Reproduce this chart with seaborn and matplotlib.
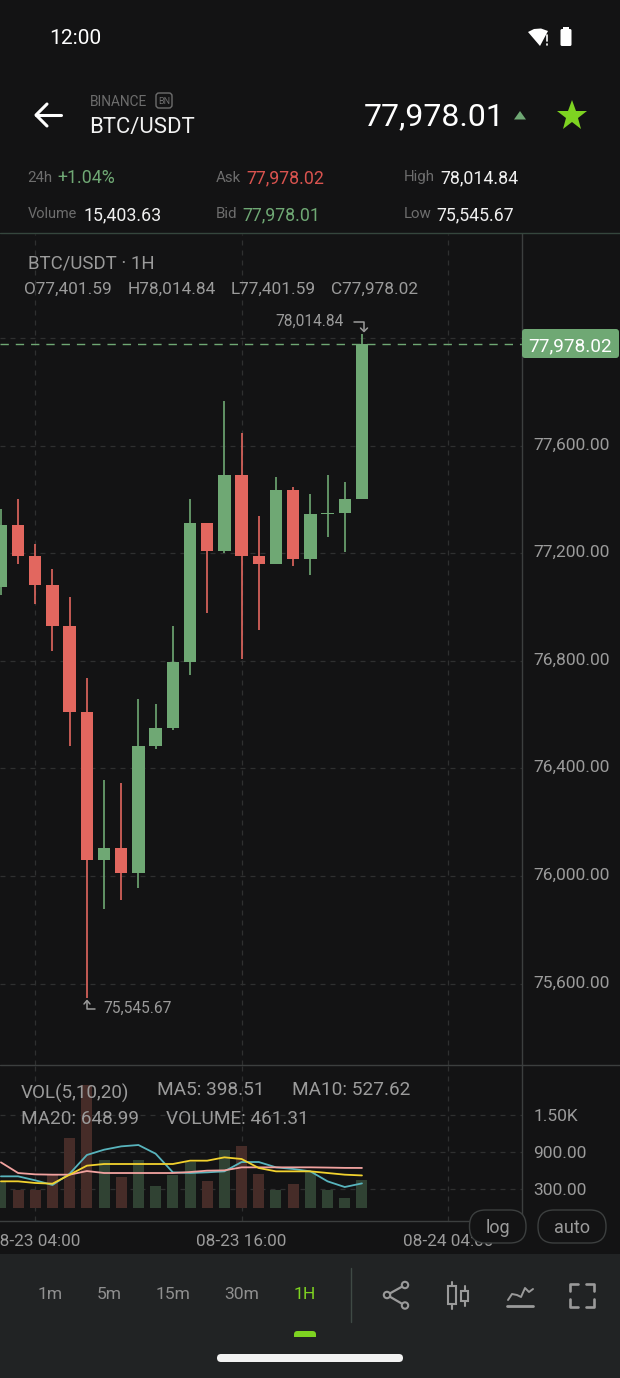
import numpy as np
import pandas as pd
import matplotlib
matplotlib.use("Agg")
import matplotlib.pyplot as plt
from matplotlib.patches import FancyBboxPatch, Rectangle, Circle, Polygon
from matplotlib.transforms import ScaledTranslation
import seaborn as sns

# candles, oldest first
opens = [77075, 77305, 77191, 77082, 76929, 76608, 76059, 76104, 76011, 76483, 76550,
         76794, 77312, 77210, 77491, 77191, 77159, 77435, 77178, 77345, 77351, 77401.59]
closes = [77305, 77191, 77082, 76929, 76608, 76059, 76104, 76011, 76483, 76550, 76794,
          77312, 77210, 77491, 77191, 77159, 77435, 77178, 77345, 77351, 77401.59, 77978.02]
highs = [77363, 77401, 77234, 77140, 77037, 76735, 76357, 76345, 76659, 76639, 76929,
         77401, 77312, 77766, 77647, 77338, 77483, 77445, 77421, 77491, 77466, 78014.84]
lows = [77045, 77159, 77012, 76837, 76483, 75545.67, 75877, 75910, 75955, 76472, 76544,
        76748, 76979, 77200, 76807, 76915, 77159, 77152, 77119, 77261, 77203, 77401.59]
volumes = [432, 297, 286, 540, 1134, 1998, 772, 502, 772, 362, 529,
           740, 443, 945, 999, 556, 297, 389, 578, 297, 162, 461.31]
ma5 = [513, 513, 448, 373, 556, 859, 945, 999, 1021, 880, 578,
       567, 578, 594, 745, 745, 659, 632, 594, 432, 340, 398.51]
ma10 = [432, 432, 405, 394, 540, 686, 713, 713, 713, 713, 713,
        767, 767, 821, 794, 648, 594, 594, 594, 567, 540, 527.62]
ma20 = [740, 567, 545, 540, 540, 599, 567, 567, 567, 567, 567,
        583, 605, 610, 659, 659, 659, 659, 659, 655, 650, 648.99]

price_ticks = [75600, 76000, 76400, 76800, 77200, 77600, 78000]
price_labels = ["75,600.00", "76,000.00", "76,400.00", "76,800.00", "77,200.00", "77,600.00", ""]
vol_ticks = [300, 900, 1500]
vol_labels = ["300.00", "900.00", "1.50K"]
time_ticks = [2, 14, 26]
time_labels = ["08-23 04:00", "08-23 16:00", "08-24 04:00"]
frames = ["1m", "5m", "15m", "30m", "1H"]

BG = "#131314"
PANEL = "#212324"
GREEN = "#6fa874"
RED = "#e2675f"
GREY = "#9b9b9b"
DIM = "#6d6d6d"
LIME = "#7ed321"
GRID = "#2f3030"
EDGE = "#3c3f3f"
W, H = 620, 1378

sns.set_theme(style="dark", rc={"axes.facecolor": "none", "figure.facecolor": BG})
plt.rcParams["font.family"] = ["Roboto", "DejaVu Sans"]

d = pd.DataFrame({"i": np.arange(len(opens)), "open": opens, "close": closes, "high": highs,
                  "low": lows, "vol": volumes, "ma5": ma5, "ma10": ma10, "ma20": ma20})
d["up"] = d.close >= d.open

fig = plt.figure(figsize=(W / 100, H / 100), dpi=100)


def box(x0, y0, x1, y1, **kw):
    return fig.add_axes([x0 / W, 1 - y1 / H, (x1 - x0) / W, (y1 - y0) / H], **kw)


xlim = (-0.0535, 30.31)
ax = box(0, 234, 522, 1065)
vax = box(0, 1065, 522, 1221)
ui = box(0, 0, W, H, zorder=5)
ui.set_xlim(0, W)
ui.set_ylim(H, 0)
ui.axis("off")
ui.patch.set_alpha(0)

# price pane
ax.axhline(closes[-1], color=GREEN, lw=1.0, dashes=(6, 5), zorder=1)
for _, c in d.iterrows():
    col = GREEN if c.up else RED
    ax.vlines(c.i, c.low, c.high, color=col, lw=1.2, zorder=3)
    ax.bar(c.i, c.close - c.open, bottom=c.open, width=0.72, color=col, lw=0, zorder=3)
ax.set_xlim(*xlim)
ax.set_ylim(75297, 78387)
ax.set_yticks(price_ticks, price_labels)
ax.set_xticks(time_ticks, [])
ax.yaxis.tick_right()
ax.tick_params(axis="y", length=0, pad=8.2, labelsize=12.5, labelcolor=GREY)
ax.tick_params(axis="x", length=0)
ax.grid(True, color=GRID, lw=0.9, dashes=(4, 4))
ax.set_axisbelow(True)
for lab in ax.get_yticklabels():
    lab.set_transform(lab.get_transform() + ScaledTranslation(0, 1.5 / 72, fig.dpi_scale_trans))

# high / low flags
ihi = int(np.argmax(highs))
ilo = int(np.argmin(lows))
ax.annotate("78,014.84", xy=(ihi, highs[ihi]), xytext=(-13.2, 9), textcoords="offset points",
            ha="right", va="center", color=GREY, fontsize=11.2, zorder=6)
ax.annotate("75,545.67", xy=(ilo, lows[ilo]), xytext=(12, -7), textcoords="offset points",
            ha="left", va="center", color=GREY, fontsize=11.2, zorder=6)

# volume pane
sns.barplot(data=d, x="i", y="vol", hue="up", palette={True: "#2d4531", False: "#4b2823"},
            native_scale=True, dodge=False, width=0.64, errorbar=None, legend=False, ax=vax,
            linewidth=0, zorder=2)
sns.lineplot(data=d, x="i", y="ma5", color="#58b4bd", lw=1.3, ax=vax, zorder=3)
sns.lineplot(data=d, x="i", y="ma20", color="#f2a3a0", lw=1.3, ax=vax, zorder=4)
sns.lineplot(data=d, x="i", y="ma10", color="#f2d22e", lw=1.3, ax=vax, zorder=5)
vax.set_xlim(*xlim)
vax.set_ylim(-211, 2318)
vax.set_xticks(time_ticks, time_labels)
vax.set_yticks(vol_ticks, vol_labels)
vax.set_xlabel("")
vax.set_ylabel("")
vax.yaxis.tick_right()
vax.tick_params(axis="y", length=0, pad=8.2, labelsize=12.5, labelcolor=GREY)
vax.tick_params(axis="x", length=0, pad=9.5, labelsize=12.3, labelcolor=GREY)
vax.grid(True, color=GRID, lw=0.9, dashes=(4, 4))
vax.set_axisbelow(True)

for a in (ax, vax):
    for s in ("left", "top", "bottom"):
        a.spines[s].set_visible(False)
    a.spines["right"].set_color(EDGE)
    a.spines["right"].set_linewidth(1.0)
vax.spines["bottom"].set_visible(True)
vax.spines["bottom"].set_color(EDGE)
vax.spines["bottom"].set_linewidth(1.0)


def txt(x, y, s, px, color=GREY, ha="left", **kw):
    ui.text(x, y, s, fontsize=px * 0.72, color=color, ha=ha, va="center_baseline", **kw)


def stroke(xs, ys, color=GREY, lw=1.6, **kw):
    ui.plot(xs, ys, color=color, lw=lw, solid_capstyle="round", solid_joinstyle="round", **kw)


def pill(x0, y0, x1, y1, r, fc, ec="none", lw=0, z=2):
    ui.add_patch(FancyBboxPatch((x0 + r, y0 + r), x1 - x0 - 2 * r, y1 - y0 - 2 * r,
                                boxstyle=f"round,pad={r},rounding_size={r}", fc=fc, ec=ec, lw=lw, zorder=z))


# status bar
txt(49, 36, "12:00", 21, "white")
ui.add_patch(Polygon([(528, 32), (534, 29), (541, 28.5), (548, 31), (540, 46)], fc="white", lw=0))
stroke([547, 547], [35, 41], "white", 1.2)
stroke([547, 547], [44, 44.6], "white", 1.2)
pill(560.5, 29, 571.5, 46, 1.5, "white")
ui.add_patch(Rectangle((563, 27), 5.5, 3, fc="white", lw=0))

# header
stroke([36, 61], [115, 115], "white", 2.2)
stroke([47, 36, 47], [104, 115, 126], "white", 2.2)
txt(90, 100, "BINANCE", 13.7, DIM)
pill(156, 93, 172, 108, 3, "none", DIM, 1.0)
txt(164, 100.5, "BN", 9, DIM, ha="center")
txt(89, 125, "BTC/USDT", 22.2, "#f2f2f2")
txt(364, 114, "77,978.01", 32, "white")
ui.add_patch(Polygon([(514, 119.5), (526, 119.5), (520, 111)], fc=GREEN, lw=0))
ui.plot(571.5, 115.5, marker="*", ms=23, color=LIME, mew=0)

txt(27.5, 176, "24h", 15, DIM)
txt(57.5, 176, "+1.04%", 17.8, GREEN)
txt(216, 176, "Ask", 15, DIM)
txt(246.5, 176, "77,978.02", 17.7, "#d9534f")
txt(404, 176, "High", 15, DIM)
txt(440.5, 176, "78,014.84", 17.7, "#f0f0f0")
txt(28, 213, "Volume", 14.5, DIM)
txt(83.5, 213, "15,403.63", 17.7, "#f0f0f0")
txt(216, 213, "Bid", 15, DIM)
txt(242.5, 213, "77,978.01", 17.7, GREEN)
txt(404, 213, "Low", 15, DIM)
txt(436.5, 213, "75,545.67", 17.7, "#f0f0f0")
ui.plot([0, W], [233, 233], color="#35463d", lw=1.0)

# chart legends
txt(28, 262, "BTC/USDT · 1H", 18.7, GREY)
txt(24, 288, "O77,401.59", 17.3, GREY)
txt(128, 288, "H78,014.84", 17.3, GREY)
txt(231, 288, "L77,401.59", 17.3, GREY)
txt(331, 288, "C77,978.02", 17.3, GREY)
txt(21, 1091, "VOL(5,10,20)", 18.9, GREY)
txt(157, 1088, "MA5: 398.51", 19, GREY)
txt(292, 1088, "MA10: 527.62", 19, GREY)
txt(21, 1117, "MA20: 648.99", 19, GREY)
txt(166, 1117, "VOLUME: 461.31", 19, GREY)

# last price tag
pill(522, 329, 619, 358, 3, GREEN)
txt(528.5, 344, "77,978.02", 19, "white", zorder=3)

# flag arrows
stroke([354, 364, 364], [322, 322, 331], GREY, 1.1)
stroke([360.5, 364, 367.5], [328, 331.5, 328], GREY, 1.1)
stroke([95, 87, 87], [1009, 1009, 1001], GREY, 1.1)
stroke([84, 87, 90], [1004, 1000.5, 1004], GREY, 1.1)

ui.plot([0, W], [1065, 1065], color=EDGE, lw=1.0)

# log / auto
pill(469.5, 1210, 526, 1243, 16, BG, EDGE, 1.0, z=3)
txt(498, 1226, "log", 18, GREY, ha="center", zorder=4)
pill(538, 1210, 606, 1243, 16, BG, EDGE, 1.0, z=3)
txt(572, 1226, "auto", 18, GREY, ha="center", zorder=4)

# bottom bar
ui.add_patch(Rectangle((0, 1254), W, H - 1254, fc=PANEL, lw=0, zorder=1))
for s, cx in zip(frames, [50, 109, 173, 242, 305]):
    txt(cx, 1293, s, 17.5, LIME if s == "1H" else "#8f8f8f", ha="center", zorder=4)
ui.plot([350.5, 350.5], [1268, 1322], color="#3f4a45", lw=1.0, zorder=4)
pill(294, 1331, 316, 1340, 3.5, LIME, z=4)
ui.add_patch(Rectangle((294, 1337), 22, 4, fc=PANEL, lw=0, zorder=5))
pill(217, 1354, 403, 1362, 4, "#f2f2f2", z=4)

ICON = "#9a9a9a"
stroke([405, 387, 405], [1285, 1295, 1305.5], ICON, 1.6, zorder=4)
for cx, cy in [(405, 1285), (387, 1295), (405, 1305.5)]:
    ui.add_patch(Circle((cx, cy), 3.2, fc=PANEL, ec=ICON, lw=1.5, zorder=5))
ui.add_patch(Rectangle((448, 1286), 7.5, 18, fc="none", ec=ICON, lw=1.5, zorder=4))
ui.add_patch(Rectangle((461, 1291), 7, 10, fc="none", ec=ICON, lw=1.5, zorder=4))
stroke([452, 452], [1282, 1286], ICON, 1.5, zorder=4)
stroke([452, 452], [1304, 1309], ICON, 1.5, zorder=4)
stroke([464.5, 464.5], [1286, 1291], ICON, 1.5, zorder=4)
stroke([464.5, 464.5], [1301, 1306], ICON, 1.5, zorder=4)
stroke([508, 512, 517, 521, 525, 529, 533], [1300, 1294, 1295, 1297, 1288, 1292, 1289], ICON, 1.4, zorder=4)
stroke([507, 533], [1306, 1306], ICON, 2.0, zorder=4)
for xs, ys in [([570, 570, 578], [1291, 1284, 1284]), ([586, 594, 594], [1284, 1284, 1291]),
               ([570, 570, 578], [1299, 1307, 1307]), ([586, 594, 594], [1307, 1307, 1299])]:
    stroke(xs, ys, ICON, 1.9, zorder=4)

fig.savefig("out.png", dpi=100, facecolor=BG)
plt.close(fig)
